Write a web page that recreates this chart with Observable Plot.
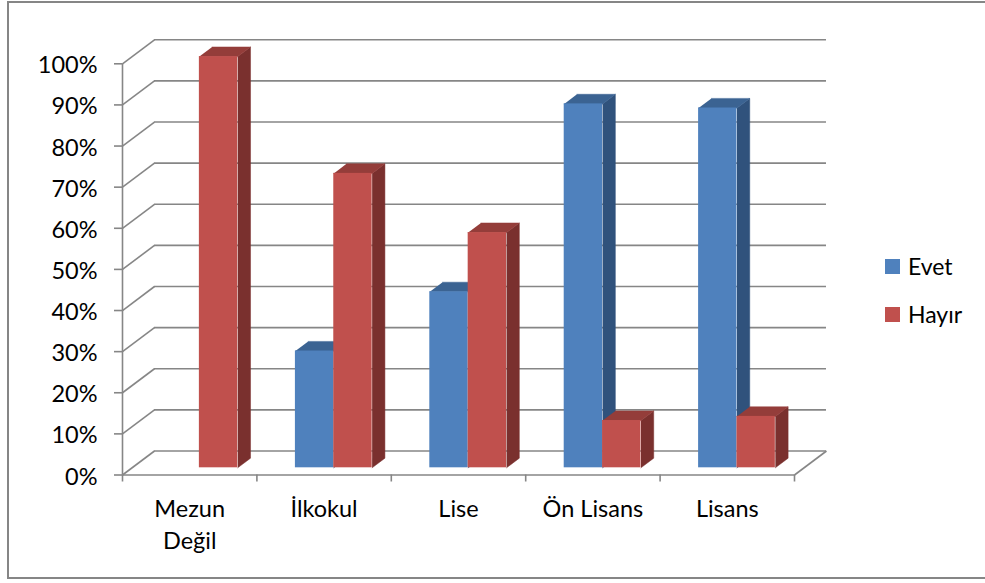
<!DOCTYPE html>
<html lang="tr">
<head>
<meta charset="utf-8">
<script src="https://cdn.jsdelivr.net/npm/d3@7"></script>
<script src="https://cdn.jsdelivr.net/npm/@observablehq/plot@0.6"></script>
<style>
  html, body { margin: 0; padding: 0; background: #fff; overflow: hidden; }
  #wrap { position: relative; width: 985px; height: 583px; font-family: Lato, sans-serif; color: #000; overflow: hidden; }
  #frame { position: absolute; left: 7px; top: 1px; width: 1000px; height: 574px; border: 2px solid #868686; }
  #chart { position: absolute; left: 0; top: 0; }
  #chart svg { display: block; background: transparent; }
  .key { position: absolute; left: 885px; font-size: 23px; line-height: 24px; padding-left: 23px; white-space: nowrap; }
  .key i { position: absolute; left: 0; top: 5px; width: 15px; height: 15px; }
</style>
</head>
<body>
<div id="wrap">
  <div id="frame"></div>
  <div id="chart"></div>
  <div class="key" style="top:254px"><i style="background:#4F81BD"></i>Evet</div>
  <div class="key" style="top:302px"><i style="background:#C0504D"></i>Hayır</div>
</div>
<script>
const categories = ["Mezun\nDeğil", "İlkokul", "Lise", "Ön Lisans", "Lisans"];
const evet  = [0, 28.4, 42.8, 88.5, 87.5];
const hayir = [100, 71.6, 57.2, 11.5, 12.5];
const yTicks = [0, 10, 20, 30, 40, 50, 60, 70, 80, 90, 100];

// 3-D projection, in scale units (x: one unit = one category, y: percent)
const wallX = 0.238, wallY = 5.84;       // depth of the chart box
const baseX = 0.072, baseY = 1.75;       // setback of the bars on the floor
const depthX = 0.095, depthY = 2.34;     // depth of one bar
const barW = 0.2855;

const grid = "#868686";
const font = "Lato, sans-serif";

function bars(values, offset) {
  return values
    .map((v, i) => {
      const x1 = i + 0.5 + baseX + offset * barW, x2 = x1 + barW;
      return {i, v, x1, x2, y1: baseY, y2: v + baseY};
    })
    .filter(d => d.v > 0);
}
const side = bs => bs.flatMap(b => [
  {b: b.i, x: b.x2, y: b.y1},
  {b: b.i, x: b.x2 + depthX, y: b.y1 + depthY},
  {b: b.i, x: b.x2 + depthX, y: b.y2 + depthY},
  {b: b.i, x: b.x2, y: b.y2}
]);
const top3d = bs => bs.flatMap(b => [
  {b: b.i, x: b.x1, y: b.y2},
  {b: b.i, x: b.x2, y: b.y2},
  {b: b.i, x: b.x2 + depthX, y: b.y2 + depthY},
  {b: b.i, x: b.x1 + depthX, y: b.y2 + depthY}
]);
function barMarks(bs, front, sideCol, topCol) {
  return [
    Plot.line(side(bs), {x: "x", y: "y", z: "b", fill: sideCol, stroke: sideCol, strokeWidth: 0.5}),
    Plot.line(top3d(bs), {x: "x", y: "y", z: "b", fill: topCol, stroke: topCol, strokeWidth: 0.5}),
    Plot.rect(bs, {x1: "x1", x2: "x2", y1: "y1", y2: "y2", fill: front})
  ];
}

const plot = Plot.plot({
  width: 985,
  height: 583,
  marginLeft: 122,
  marginRight: 191,
  marginTop: 63.3,
  marginBottom: 108.5,
  x: {type: "linear", domain: [0, 5]},
  y: {type: "linear", domain: [0, 100]},
  style: {background: "transparent"},
  marks: [
    // back wall
    Plot.ruleY(yTicks, {y: d => d + wallY, x1: () => wallX, x2: () => 5 + wallX, stroke: grid, strokeWidth: 1.6}),
    // side wall
    Plot.link(yTicks, {x1: () => 0, y1: d => d, x2: () => wallX, y2: d => d + wallY, stroke: grid, strokeWidth: 1.6}),
    // floor front edges
    Plot.link([0], {x1: () => 0, y1: () => 0, x2: () => 5, y2: () => 0, stroke: grid, strokeWidth: 1.6}),
    Plot.link([0], {x1: () => 5, y1: () => 0, x2: () => 5 + wallX, y2: () => wallY, stroke: grid, strokeWidth: 1.6}),
    Plot.ruleX([0], {y1: () => 0, y2: () => 100, stroke: grid, strokeWidth: 1.6}),
    // bars
    ...barMarks(bars(evet, -1), "#4F81BD", "#30527C", "#3B6392"),
    ...barMarks(bars(hayir, 0), "#C0504D", "#7A302E", "#943D3A"),
    // axes
    Plot.axisY({
      ticks: yTicks, tickSize: 8, strokeWidth: 1.6, stroke: grid,
      tickFormat: () => "", label: null
    }),
    Plot.axisY({
      ticks: yTicks, tickSize: 0, tickPadding: 25, dy: 2,
      tickFormat: d => d + "%", label: null, fontSize: 23.5, fontFamily: font, fill: "#000"
    }),
    Plot.axisX({
      ticks: [0, 1, 2, 3, 4, 5], tickSize: 7, strokeWidth: 1.6, stroke: grid,
      tickFormat: () => "", label: null
    }),
    Plot.axisX({
      ticks: categories.map((_, i) => i + 0.5), tickSize: 0, tickPadding: 18.5,
      tickFormat: d => categories[d - 0.5], label: null,
      fontSize: 23.5, fontFamily: font, fill: "#000", lineHeight: 1.38
    })
  ]
});
document.getElementById("chart").appendChild(plot);
</script>
</body>
</html>
